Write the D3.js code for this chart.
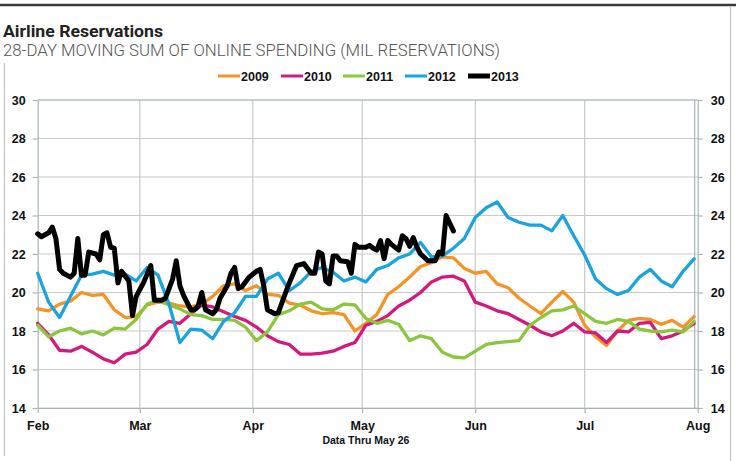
<!DOCTYPE html>
<html><head><meta charset="utf-8">
<script src="https://cdn.jsdelivr.net/npm/d3@7"></script>
<style>
html,body{margin:0;padding:0;background:#fff;}
svg{display:block;}
</style></head>
<body>
<svg id="chart" width="736" height="461"></svg>
<script>
// ---- data ----
const monthLabels = ["Feb","Mar","Apr","May","Jun","Jul","Aug"];
const yTicks = [14,16,18,20,22,24,26,28,30];
const seriesNames = ["2009","2010","2011","2012","2013"];
const seriesColors = ["#f39428","#d4197c","#8cc63f","#1ba3dd","#000000"];
// days after Feb 1
const days = [0,3,6,9,12,15,18,21,24,27,30,33,36,39,42,45,48,51,54,57,60,63,66,69,72,75,78,81,84,87,90,93,96,99,102,105,108,111,114,117,120,123,126,129,132,135,138,141,144,147,150,153,156,159,162,165,168,171,174,177,180];
const s2009 = [19.15,19.05,19.4,19.55,20.0,19.85,19.9,19.1,18.7,18.75,19.35,19.5,19.45,19.3,19.25,19.4,19.8,20.35,20.45,20.1,20.35,19.9,19.85,19.45,19.35,19.05,18.9,18.95,18.85,18.0,18.4,18.85,19.9,20.3,20.8,21.35,21.55,21.85,21.8,21.25,21.0,21.1,20.45,20.25,19.7,19.3,18.9,19.5,20.05,19.5,18.3,17.7,17.25,18.0,18.55,18.65,18.6,18.35,18.55,18.2,18.75];
const s2010 = [18.4,17.8,17.0,16.95,17.2,16.9,16.55,16.35,16.8,16.9,17.3,18.1,18.5,18.4,18.9,19.35,19.25,19.0,18.75,18.55,18.2,17.75,17.45,17.3,16.8,16.8,16.85,16.95,17.2,17.4,18.3,18.5,18.8,19.3,19.6,20.0,20.55,20.8,20.85,20.6,19.5,19.3,19.05,18.9,18.6,18.3,17.95,17.75,18.0,18.4,17.95,17.9,17.4,18.0,17.95,18.4,18.45,17.6,17.75,18.0,18.4];
const s2011 = [18.3,17.7,18.0,18.15,17.85,18.0,17.8,18.15,18.1,18.6,19.4,19.6,19.35,19.15,18.85,18.8,18.6,18.6,18.55,18.2,17.5,17.95,18.85,19.05,19.4,19.5,19.15,19.1,19.4,19.35,18.65,18.4,18.55,18.35,17.5,17.75,17.6,16.9,16.65,16.6,16.95,17.3,17.4,17.45,17.5,18.3,18.7,19.05,19.1,19.3,18.9,18.5,18.4,18.6,18.5,18.1,18.0,17.95,18.05,17.95,18.5];
const s2012 = [21.0,19.5,18.7,19.8,20.9,20.95,21.1,20.9,20.95,20.6,21.3,20.9,19.4,17.4,18.1,18.05,17.6,18.5,18.95,19.8,19.8,20.7,21.0,20.1,20.5,21.1,21.3,21.05,20.6,20.8,20.55,21.2,21.4,21.8,22.0,22.6,21.85,21.9,22.3,22.8,23.9,24.4,24.7,23.9,23.65,23.5,23.5,23.2,24.0,22.95,21.95,20.7,20.2,19.9,20.1,20.8,21.2,20.6,20.3,21.1,21.75];
const days2013 = [0,1,3,4,5,6,7,9,10,11,12,13,14,16,17,18,19,20,21,22,23,25,26,27,29,31,32,34,35,37,38,39,40,42,43,44,45,46,48,49,50,52,53,54,55,56,58,60,61,62,63,65,66,68,69,71,73,75,76,77,78,79,80,81,82,83,85,86,87,88,90,91,92,93,94,95,96,97,99,100,101,102,103,104,105,107,109,110,111,112,113,114];
const s2013 = [23.05,22.9,23.1,23.4,22.8,21.2,21.0,20.8,21.0,22.8,20.9,20.9,22.1,22.0,21.7,23.0,23.1,22.35,22.3,20.5,21.1,20.6,18.8,19.8,20.5,21.4,19.6,19.6,19.7,20.7,21.65,20.35,19.85,19.1,19.1,19.3,20.0,19.1,18.9,19.1,19.7,20.35,21.0,21.3,20.2,20.3,20.8,21.1,21.2,20.35,19.1,18.9,18.95,20.0,20.5,21.4,21.5,21.0,21.0,22.1,22.0,20.6,20.45,21.9,21.9,21.65,21.6,21.0,22.5,22.35,22.35,22.45,22.3,22.2,22.7,21.75,22.7,22.5,22.2,22.95,22.8,22.4,22.85,22.35,22.0,21.65,21.65,22.1,22.0,24.0,23.6,23.2];

// ---- chart ----
const svg = d3.select("#chart");
const start = new Date(2013,1,1);
const toDate = d => d3.timeDay.offset(start, d);
const x = d3.scaleTime().domain([start, new Date(2013,7,1)]).range([37.7, 697.7]);
const y = d3.scaleLinear().domain([14,30]).range([408,100]);
const labelFont = "'Liberation Sans Narrow','Arial Narrow','Liberation Sans',Arial,sans-serif";

// frame
svg.append("line").attr("x1",0).attr("x2",736).attr("y1",5).attr("y2",5).attr("stroke","#3a3a3a").attr("stroke-width",2.5);
svg.append("line").attr("x1",4.5).attr("x2",4.5).attr("y1",63).attr("y2",456).attr("stroke","#c4c4c4").attr("stroke-width",1.2);
svg.append("line").attr("x1",730.5).attr("x2",730.5).attr("y1",6).attr("y2",461).attr("stroke","#c4c4c4").attr("stroke-width",1.2);

// titles
svg.append("text").attr("x",3).attr("y",37).attr("font-family","Roboto,'Liberation Sans',sans-serif")
  .attr("font-weight",700).attr("font-size",16).attr("fill","#222")
  .attr("textLength",160).attr("lengthAdjust","spacingAndGlyphs").text("Airline Reservations");
svg.append("text").attr("x",3).attr("y",56).attr("font-family","Roboto,'Liberation Sans',sans-serif")
  .attr("font-weight",300).attr("font-size",17).attr("fill","#555")
  .attr("textLength",497).attr("lengthAdjust","spacingAndGlyphs")
  .text("28-DAY MOVING SUM OF ONLINE SPENDING (MIL RESERVATIONS)");

// legend
const legendX = [218,281,343,405,468];
const lg = svg.append("g");
seriesNames.forEach((n,i)=>{
  lg.append("line").attr("x1",legendX[i]).attr("x2",legendX[i]+22).attr("y1",76).attr("y2",76)
    .attr("stroke",seriesColors[i]).attr("stroke-width", i===4?5:3);
  lg.append("text").attr("x",legendX[i]+23).attr("y",80.5).attr("font-family",labelFont)
    .attr("font-weight",700).attr("font-size",12.5).attr("fill","#111").text(n);
});

// grid
const monthDates = monthLabels.map((m,i)=>new Date(2013,1+i,1));
const grid = svg.append("g");
grid.selectAll("line.h").data(yTicks).join("line").attr("class","h")
  .attr("x1",x.range()[0]).attr("x2",x.range()[1]).attr("y1",d=>y(d)).attr("y2",d=>y(d))
  .attr("stroke","#c9c9c9").attr("stroke-width",1.2);
grid.selectAll("line.v").data(monthDates.slice(1,-1)).join("line").attr("class","v")
  .attr("x1",d=>x(d)).attr("x2",d=>x(d)).attr("y1",y(30)).attr("y2",y(14))
  .attr("stroke","#c9c9c9").attr("stroke-width",1.2);

// axes
const axL = svg.append("g").attr("transform",`translate(${x.range()[0]},0)`)
  .call(d3.axisLeft(y).tickValues(yTicks).tickSize(5).tickPadding(7).tickSizeOuter(0));
const axR = svg.append("g").attr("transform",`translate(${x.range()[1]},0)`)
  .call(d3.axisRight(y).tickValues(yTicks).tickSize(5).tickPadding(8).tickSizeOuter(0));
const axB = svg.append("g").attr("transform",`translate(0,${y(14)})`)
  .call(d3.axisBottom(x).tickValues(monthDates).tickFormat((d,i)=>monthLabels[i]).tickSize(5).tickPadding(8).tickSizeOuter(0));
[axL,axR,axB].forEach(a=>{
  a.selectAll(".domain").attr("stroke","#a9b4b8").attr("stroke-width",1.2);
  a.selectAll(".tick line").attr("stroke","#a9b4b8").attr("stroke-width",1.2);
  a.selectAll("text").attr("font-family",labelFont).attr("font-weight",700).attr("font-size",12.5).attr("fill","#111");
});
axR.append("line").attr("x1",-3).attr("x2",-3).attr("y1",y(30)).attr("y2",y(14)).attr("stroke","#a9b4b8").attr("stroke-width",1.2);
svg.append("line").attr("x1",x.range()[0]).attr("x2",x.range()[1]).attr("y1",y(30)).attr("y2",y(30)).attr("stroke","#a9b8bd").attr("stroke-width",1.2);

svg.append("text").attr("x",x(new Date(2013,4,2))).attr("y",444).attr("text-anchor","middle")
  .attr("font-family",labelFont).attr("font-weight",700).attr("font-size",10.5).attr("fill","#111")
  .text("Data Thru May 26");

// lines
const line = d3.line().x(d=>x(toDate(d[0]))).y(d=>y(d[1]));
const allSeries = [
  {name:"2009", pts: days.map((d,i)=>[d,s2009[i]])},
  {name:"2010", pts: days.map((d,i)=>[d,s2010[i]])},
  {name:"2011", pts: days.map((d,i)=>[d,s2011[i]])},
  {name:"2012", pts: days.map((d,i)=>[d,s2012[i]])},
  {name:"2013", pts: days2013.map((d,i)=>[d,s2013[i]])}
];
svg.append("g").selectAll("path").data(allSeries).join("path")
  .attr("d",s=>line(s.pts)).attr("fill","none")
  .attr("stroke",(s,i)=>seriesColors[i]).attr("stroke-width",(s,i)=>i===4?5:3.3)
  .attr("stroke-linejoin","round").attr("stroke-linecap","round");
</script>
</body></html>
